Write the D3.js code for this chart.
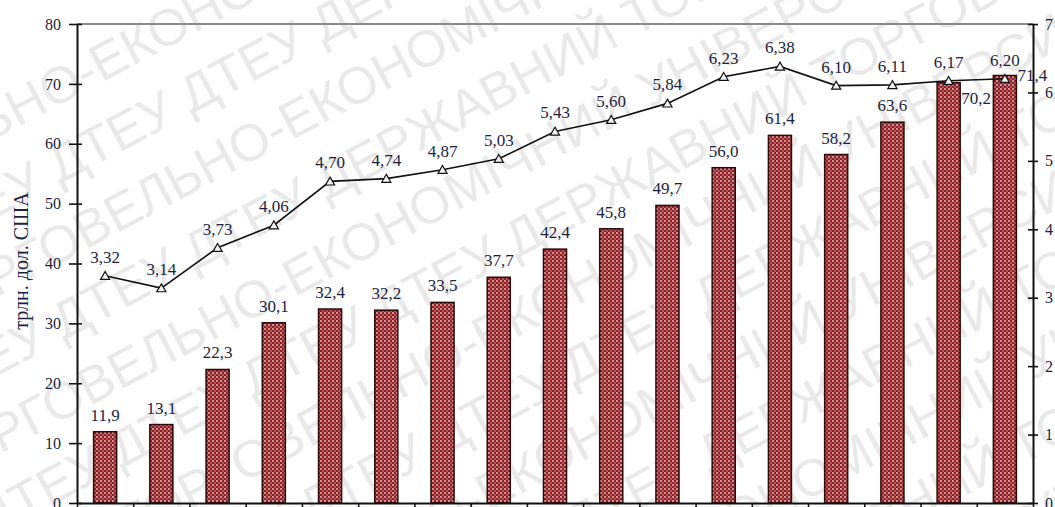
<!DOCTYPE html>
<html>
<head>
<meta charset="utf-8">
<script src="https://cdn.jsdelivr.net/npm/d3@7"></script>
<style>
  html, body { margin: 0; padding: 0; background: #fff; overflow: hidden; }
  svg { display: block; }
</style>
</head>
<body>
<div id="chart"></div>
<script>
  "use strict";

  /* <!-- Data --> */
  var barValues = [11.9, 13.1, 22.3, 30.1, 32.4, 32.2, 33.5, 37.7, 42.4, 45.8, 49.7, 56.0, 61.4, 58.2, 63.6, 70.2, 71.4];
  var lineValues = [3.32, 3.14, 3.73, 4.06, 4.70, 4.74, 4.87, 5.03, 5.43, 5.60, 5.84, 6.23, 6.38, 6.10, 6.11, 6.17, 6.20];
  var leftTicks = [0, 10, 20, 30, 40, 50, 60, 70, 80];
  var rightTicks = [0, 1, 2, 3, 4, 5, 6, 7];
  var axisTitle = "трлн. дол. США";
  var watermarkLines = [
    "ДТЕУ ДТЕУ ДТЕУ ДТЕУ ДТЕУ ДТЕУ",
    "ДЕРЖАВНИЙ ТОРГОВЕЛЬНО-ЕКОНОМІЧНИЙ УНІВЕРСИТЕТ"
  ];

  /* <!-- Layout --> */
  var W = 1055, H = 507,
    m = { left: 77, right: 1033, top: 24, bottom: 503 };

  var fmt = (v, d) => v.toFixed(d).replace(".", ",");

  var svg = d3.select("#chart").append("svg")
    .attr("width", W).attr("height", H)
    .attr("viewBox", `0 0 ${W} ${H}`);

  /* <!-- Bar fill pattern --> */
  var defs = svg.append("defs");
  var pat = defs.append("pattern")
    .attr("id", "checker").attr("patternUnits", "userSpaceOnUse")
    .attr("width", 4).attr("height", 4);
  pat.append("rect").attr("width", 4).attr("height", 4).attr("fill", "#8e1f22");
  pat.append("rect").attr("x", 0).attr("y", 0).attr("width", 2).attr("height", 2).attr("fill", "#cf9294");
  pat.append("rect").attr("x", 2).attr("y", 2).attr("width", 2).attr("height", 2).attr("fill", "#b0585b");

  defs.append("clipPath").attr("id", "page")
    .append("rect").attr("width", W).attr("height", H);

  /* <!-- Watermark --> */
  var wm = svg.append("g").attr("clip-path", "url(#page)")
    .append("g")
    .attr("transform", "rotate(-28 527 253)")
    .attr("fill", "#e9e9e9")
    .style("font-family", "'Liberation Sans', Arial, sans-serif")
    .style("font-size", "52px");
  d3.range(-5, 8).forEach(i => {
    wm.append("text")
      .attr("x", -380 + (i % 3) * 70)
      .attr("y", 253 + i * 70)
      .text(watermarkLines[(i + 20) % 2] + " " + watermarkLines[(i + 21) % 2]);
  });

  /* <!-- Scales --> */
  var x = d3.scaleBand().domain(d3.range(barValues.length)).range([m.left, m.right]).padding(0);
  var xEdge = d3.scaleLinear().domain([0, barValues.length]).range([m.left, m.right]);
  var yL = d3.scaleLinear().domain([0, 80]).range([m.bottom, m.top]);
  var yR = d3.scaleLinear().domain([0, 7]).range([m.bottom, m.top]);
  var barW = x.bandwidth() * 0.41;
  var cx = i => x(i) + x.bandwidth() / 2;

  var textFont = "'Liberation Serif', 'Times New Roman', serif",
    textColor = "#1c1f3f";

  /* <!-- Top frame line --> */
  svg.append("line")
    .attr("x1", m.left).attr("x2", m.right)
    .attr("y1", m.top).attr("y2", m.top)
    .attr("stroke", "#8a8a8a").attr("stroke-width", 2);

  /* <!-- Bars --> */
  svg.append("g").selectAll("rect")
    .data(barValues).enter().append("rect")
    .attr("x", (d, i) => cx(i) - barW / 2)
    .attr("y", d => yL(d))
    .attr("width", barW)
    .attr("height", d => yL(0) - yL(d))
    .attr("fill", "url(#checker)")
    .attr("stroke", "#2a0a0a").attr("stroke-width", 1.5);

  /* <!-- Bar labels --> */
  var n = barValues.length;
  svg.append("g")
    .style("font-family", textFont).style("font-size", "17px").attr("fill", textColor)
    .selectAll("text").data(barValues).enter().append("text")
    .attr("x", (d, i) => i >= n - 2 ? cx(i) + barW / 2 + 1 : cx(i))
    .attr("y", (d, i) => i === n - 2 ? yL(d) + 21 : i === n - 1 ? yL(d) + 6 : yL(d) - 11)
    .attr("text-anchor", (d, i) => i >= n - 2 ? "start" : "middle")
    .text(d => fmt(d, 1));

  /* <!-- Line --> */
  svg.append("path")
    .datum(lineValues)
    .attr("d", d3.line().x((d, i) => cx(i)).y(d => yR(d)))
    .attr("fill", "none").attr("stroke", "#111").attr("stroke-width", 1.6);

  svg.append("g").selectAll("path")
    .data(lineValues).enter().append("path")
    .attr("d", d3.symbol(d3.symbolTriangle, 36))
    .attr("transform", (d, i) => `translate(${cx(i)},${yR(d) + 1})`)
    .attr("fill", "#f4f4f4").attr("stroke", "#111").attr("stroke-width", 1.2);

  svg.append("g")
    .style("font-family", textFont).style("font-size", "17px").attr("fill", textColor)
    .selectAll("text").data(lineValues).enter().append("text")
    .attr("x", (d, i) => cx(i))
    .attr("y", d => yR(d) - 13)
    .attr("text-anchor", "middle")
    .text(d => fmt(d, 2));

  /* <!-- Axes --> */
  var styleAxis = g => {
    g.select(".domain").attr("stroke", "#111").attr("stroke-width", 2);
    g.selectAll(".tick line").attr("stroke", "#111").attr("stroke-width", 1.6);
    g.selectAll(".tick text")
      .style("font-family", textFont).style("font-size", "16px").attr("fill", textColor);
  };

  var gL = svg.append("g").attr("transform", `translate(${m.left},0)`)
    .call(d3.axisLeft(yL).tickValues(leftTicks).tickFormat(d3.format("d"))
      .tickSize(8).tickSizeOuter(0).tickPadding(8));
  styleAxis(gL);
  gL.selectAll(".tick line").attr("x2", 5).attr("x1", -8);

  var gR = svg.append("g").attr("transform", `translate(${m.right},0)`)
    .call(d3.axisRight(yR).tickValues(rightTicks).tickFormat(d3.format("d"))
      .tickSize(5).tickSizeOuter(0).tickPadding(6));
  styleAxis(gR);
  gR.selectAll(".tick line").attr("x1", -5).attr("x2", 5);
  gR.selectAll(".tick text").attr("x", 12);

  var gB = svg.append("g").attr("transform", `translate(0,${m.bottom})`)
    .call(d3.axisBottom(xEdge).tickValues(d3.range(n + 1)).tickFormat("").tickSize(8).tickSizeOuter(0));
  styleAxis(gB);

  /* <!-- Axis title --> */
  svg.append("text")
    .attr("transform", "translate(28,261) rotate(-90)")
    .attr("text-anchor", "middle")
    .style("font-family", textFont).style("font-size", "20px").attr("fill", textColor)
    .text(axisTitle);
</script>
</body>
</html>
